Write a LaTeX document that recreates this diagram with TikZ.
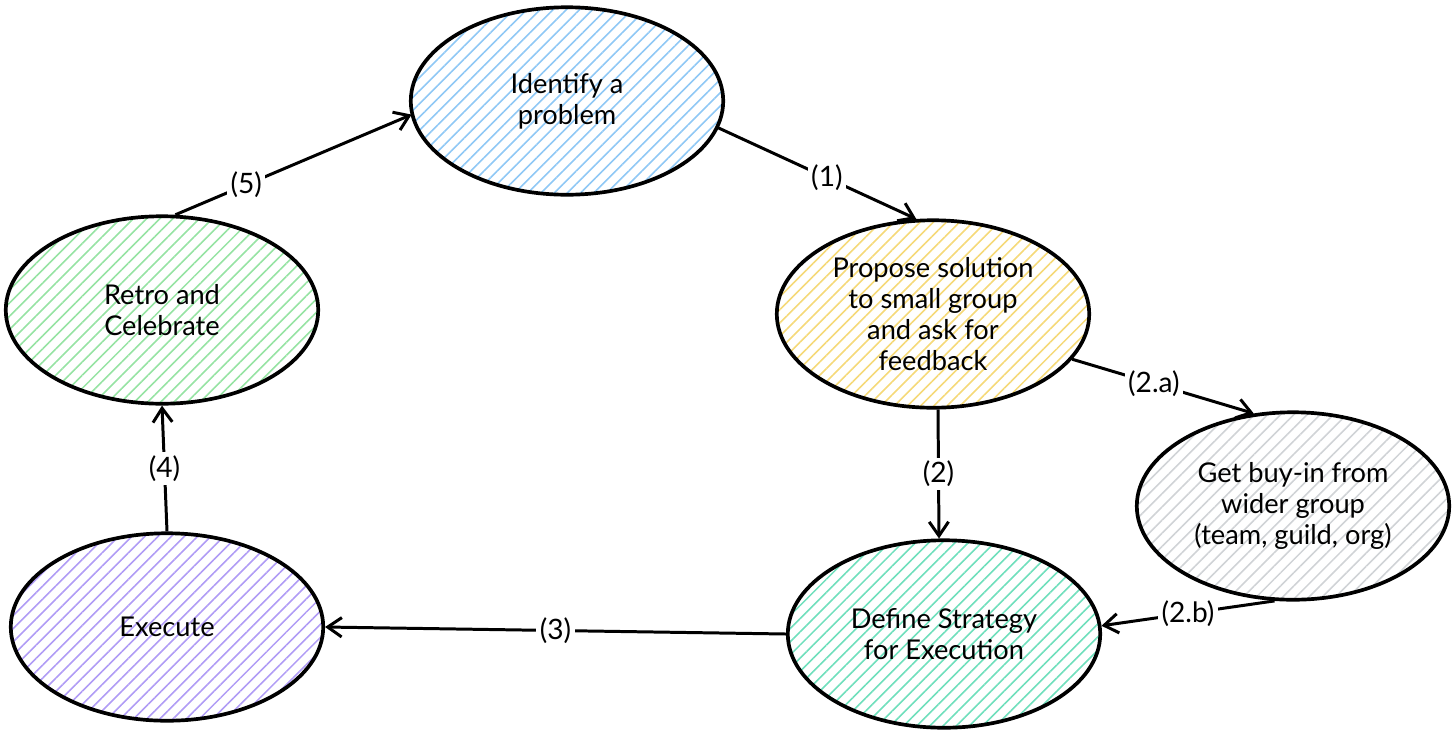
\documentclass[tikz,border=0pt]{standalone}
\usepackage{fontspec}
\setmainfont{Lato}
\usetikzlibrary{shapes.geometric,arrows.meta,patterns.meta}
\definecolor{hatchblue}{HTML}{8FC8F5}
\definecolor{hatchyellow}{HTML}{F5D978}
\definecolor{hatchgrey}{HTML}{D0D3D6}
\definecolor{hatchteal}{HTML}{6FDFBC}
\definecolor{hatchpurple}{HTML}{B09CF5}
\definecolor{hatchgreen}{HTML}{96E3A3}
\begin{document}
\begin{tikzpicture}[x=0.02cm,y=-0.02cm,
  stage/.style={ellipse,draw=black,line width=2.1pt,minimum width=6.25cm,minimum height=3.75cm,
    inner sep=0pt,align=center,font=\fontsize{15.5}{17.5}\selectfont},
  hatch/.style={pattern={Lines[angle=45,distance=5.3pt,line width=0.9pt]},pattern color=#1},
  flow/.style={line width=1.7pt,-{Straight Barb[length=8pt,width=11pt,line width=1.7pt]}},
  tag/.style={fill=white,inner sep=2pt,font=\fontsize{16}{18}\selectfont}]
\useasboundingbox (0,0) rectangle (1456,734);

\node[stage,hatch=hatchblue] (problem) at (567,101) {Identify a\\problem};
\node[stage,hatch=hatchyellow] (propose) at (933,314) {Propose solution\\to small group\\and ask for\\feedback};
\node[stage,hatch=hatchgrey] (buyin) at (1293,506) {Get buy-in from\\wider group\\(team, guild, org)};
\node[stage,hatch=hatchteal] (strategy) at (944,634) {Define Strategy\\for Execution};
\node[stage,hatch=hatchpurple] (execute) at (167,627) {Execute};
\node[stage,hatch=hatchgreen] (retro) at (162,310) {Retro and\\Celebrate};

\draw[flow] (problem.-10) -- node[tag,pos=0.55] {(1)} (propose.100);
\draw[flow] (propose.-18) -- node[tag,pos=0.45] {(2.a)} (buyin.113);
\draw[flow] (propose.-87) -- node[tag] {(2)} (strategy.93);
\draw[flow] (buyin.-101) -- node[tag] {(2.b)} (strategy.3);
\draw[flow] (strategy.west) -- node[tag] {(3)} (execute.east);
\draw[flow] (execute.north) -- node[tag] {(4)} (retro.south);
\draw[flow] (retro.82) -- node[tag,pos=0.3] {(5)} (problem.185);
\end{tikzpicture}
\end{document}
